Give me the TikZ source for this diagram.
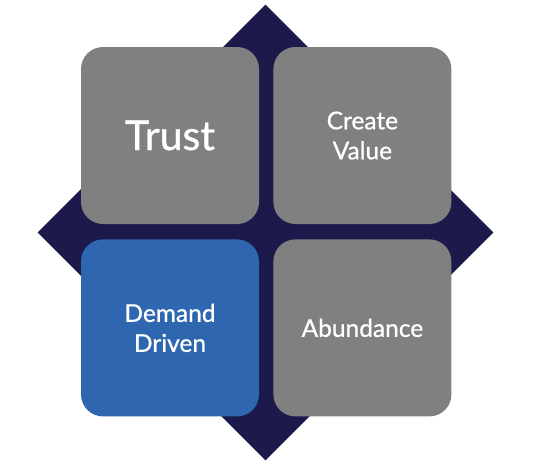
\documentclass[tikz,border=0pt]{standalone}
\usepackage{fontspec}
\setmainfont{Lato}
\newfontfamily\tilefont{Lato}[FakeBold=0.8]
\usepackage{tikz}
\usetikzlibrary{positioning,shapes.geometric}

\definecolor{navy}{HTML}{1B1A4B}
\definecolor{tilegrey}{HTML}{808080}
\definecolor{tileblue}{HTML}{2E67AF}

\begin{document}
\begin{tikzpicture}[x=1pt, y=-1pt,
    backdiamond/.style={diamond, fill=navy, inner sep=0pt,
        minimum width=456pt, minimum height=456pt},
    tile/.style={rectangle, rounded corners=22pt, fill=tilegrey,
        minimum width=178pt, minimum height=177pt, inner sep=0pt,
        text=white, align=center,
        font=\tilefont\fontsize{24.5}{30}\selectfont},
    hilite/.style={tile, fill=tileblue},
]
\useasboundingbox (0,0) rectangle (536,466);

% ── Background diamond ──
\node[backdiamond] (back) at (265.5,232.5) {};

% ── Top row ──
\node[tile, font=\tilefont\fontsize{41}{42}\selectfont] (trust)
    at (170,135.5) {Trust};
\node[tile, right=14pt of trust] (value)
    {Create\\Value};

% ── Bottom row ──
\node[hilite, below=15pt of trust] (demand)
    {Demand\\Driven};
\node[tile, right=14pt of demand] (abund)
    {Abundance};

\end{tikzpicture}
\end{document}
